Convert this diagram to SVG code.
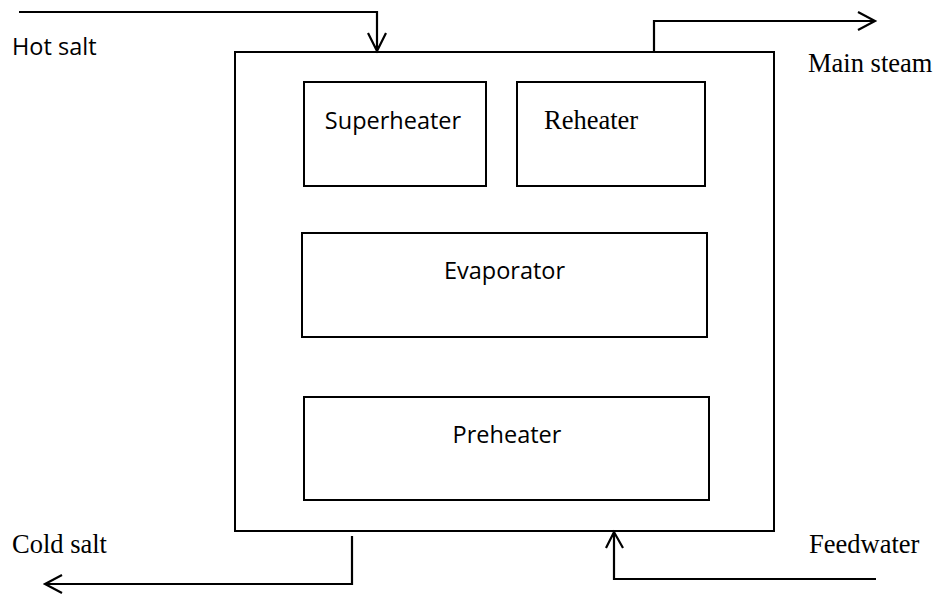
<svg xmlns="http://www.w3.org/2000/svg" width="939" height="594" viewBox="0 0 939 594">
<style>
.box{fill:none;stroke:#000;stroke-width:2}
.ln{fill:none;stroke:#000;stroke-width:2.2}
.sans{font-family:"Open Sans","Noto Sans",sans-serif;font-size:23.5px;fill:#000}
.serif{font-family:"Liberation Serif","Times New Roman",serif;font-size:26.5px;fill:#000}
</style>
<rect width="939" height="594" fill="#fff"/>
<g id="exchanger"><rect class="box" x="235" y="52" width="539" height="479"/></g>
<g id="superheater"><rect class="box" x="304" y="82" width="182" height="104"/><text class="sans" x="393" y="129" text-anchor="middle">Superheater</text></g>
<g id="reheater"><rect class="box" x="517" y="82" width="188" height="104"/><text class="serif" x="544" y="129">Reheater</text></g>
<g id="evaporator"><rect class="box" x="302" y="233" width="405" height="104"/><text class="sans" x="504.5" y="279" text-anchor="middle">Evaporator</text></g>
<g id="preheater"><rect class="box" x="304" y="397" width="405" height="103"/><text class="sans" x="507" y="443" text-anchor="middle">Preheater</text></g>
<g id="connectors">
<path class="ln" d="M19 12H377V51M368 33L377 51L386 33"/>
<path class="ln" d="M654 52V21H875M858 12L875 21L858 30"/>
<path class="ln" d="M352 536V584H45M62 575L45 584L62 593"/>
<path class="ln" d="M876 579H614V532M606 548L614 532L623 548"/>
</g>
<g id="labels">
<text class="sans" x="12" y="55">Hot salt</text>
<text class="serif" x="808" y="72">Main steam</text>
<text class="serif" x="12" y="553">Cold salt</text>
<text class="serif" x="809" y="553">Feedwater</text>
</g>
</svg>
